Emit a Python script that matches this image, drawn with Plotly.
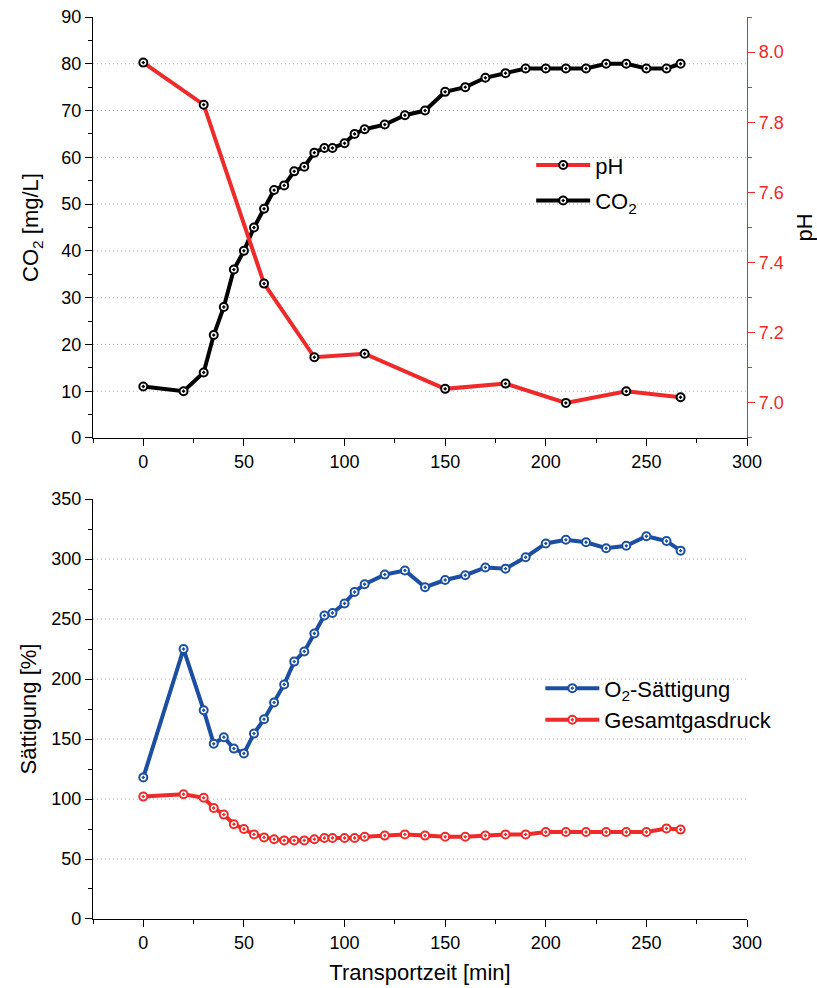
import plotly.graph_objects as go

# --- data -------------------------------------------------------------------
# time points (min)
t_ph = [0, 30, 60, 85, 110, 150, 180, 210, 240, 267]
ph = [7.97, 7.85, 7.34, 7.13, 7.14, 7.04, 7.055, 7.0, 7.033, 7.016]

t_meas = [0, 20, 30, 35, 40, 45, 50, 55, 60, 65, 70, 75, 80, 85, 90, 94, 100,
          105, 110, 120, 130, 140, 150, 160, 170, 180, 190, 200, 210, 220,
          230, 240, 250, 260, 267]
co2 = [11, 10, 14, 22, 28, 36, 40, 45, 49, 53, 54, 57, 58, 61, 62, 62, 63,
       65, 66, 67, 69, 70, 74, 75, 77, 78, 79, 79, 79, 79,
       80, 80, 79, 79, 80]
o2_sat = [118, 225, 174, 146, 151.5, 142, 138, 154.5, 166.5, 180.5, 195.5,
          214.5, 223, 238, 253, 255, 263, 272.5, 279, 287, 290.5, 276.5,
          282.5, 286.5, 293, 292, 301.5, 313, 316, 314, 309, 311, 319, 315,
          307]
gas_pressure = [102, 104, 101, 92.5, 87, 79, 75, 70.5, 68, 66.5, 65.5, 65.5,
                65.5, 66.5, 67.5, 67.5, 67.5, 67.5, 68.5, 69.5, 70.5, 69.5,
                68.5, 68.5, 69.5, 70.5, 70.5, 72.5, 72.5, 72.5, 72.5, 72.5,
                72.5, 75.5, 74.5]

# axis settings
x_range = [-25, 300]
co2_range = [0, 90]
ph_range = [6.9, 8.1]
sat_range = [0, 350]
co2_grid = [10, 20, 30, 40, 50, 60, 70, 80]
sat_grid = [50, 100, 150, 200, 250, 300]

RED = "#EE2A2A"
BLUE = "#1C4FA1"
BLACK = "#000000"
GRID = "#a8a8a8"
FONT = "Arial, Liberation Sans, sans-serif"

fig = go.Figure()


def marker(edge):
    return dict(symbol="circle-dot", size=8, color="white",
                line=dict(color=edge, width=2))


fig.add_trace(go.Scatter(x=t_ph, y=ph, name="pH", mode="lines+markers",
                         line=dict(color=RED, width=4), marker=marker(BLACK),
                         xaxis="x", yaxis="y2", legend="legend",
                         legendgroup="a"))
fig.add_trace(go.Scatter(x=t_meas, y=co2, name="CO<sub>2</sub>",
                         mode="lines+markers",
                         line=dict(color=BLACK, width=4), marker=marker(BLACK),
                         xaxis="x", yaxis="y", legend="legend",
                         legendgroup="b"))
fig.add_trace(go.Scatter(x=t_meas, y=o2_sat, name="O<sub>2</sub>-Sättigung",
                         mode="lines+markers",
                         line=dict(color=BLUE, width=4), marker=marker(BLUE),
                         xaxis="x2", yaxis="y3", legend="legend2",
                         legendgroup="c"))
fig.add_trace(go.Scatter(x=t_meas, y=gas_pressure, name="Gesamtgasdruck",
                         mode="lines+markers",
                         line=dict(color=RED, width=4), marker=marker(RED),
                         xaxis="x2", yaxis="y3", legend="legend2",
                         legendgroup="d"))

# dotted horizontal grid lines
for v in co2_grid:
    fig.add_shape(type="line", xref="x", yref="y", x0=x_range[0],
                  x1=x_range[1], y0=v, y1=v, layer="below",
                  line=dict(color=GRID, width=1, dash="1px,3px"))
for v in sat_grid:
    fig.add_shape(type="line", xref="x2", yref="y3", x0=x_range[0],
                  x1=x_range[1], y0=v, y1=v, layer="below",
                  line=dict(color=GRID, width=1, dash="1px,3px"))

axis_common = dict(showline=True, linecolor=BLACK, linewidth=1.3,
                   ticks="outside", ticklen=7, tickwidth=1.3,
                   tickcolor=BLACK, showgrid=False, zeroline=False,
                   automargin=False,
                   tickfont=dict(size=18, color=BLACK, family=FONT))

fig.update_layout(
    width=817, height=988,
    margin=dict(l=93, r=70, t=17, b=69),
    plot_bgcolor="white", paper_bgcolor="white",
    font=dict(family=FONT, color=BLACK),
    xaxis=dict(domain=[0, 1], anchor="y", range=x_range, tick0=0, dtick=50,
               minor=dict(dtick=25, ticks="outside", ticklen=4,
                          tickcolor=BLACK, tickwidth=1.3),
               **axis_common),
    yaxis=dict(domain=[0.5333, 1], anchor="x", range=co2_range, dtick=10,
               minor=dict(dtick=5, ticks="outside", ticklen=4,
                          tickcolor=BLACK, tickwidth=1.3),
               title=dict(text="CO<sub>2</sub> [mg/L]",
                          font=dict(size=22), standoff=16),
               **axis_common),
    yaxis2=dict(overlaying="y", side="right", anchor="x", range=ph_range,
                tick0=7.0, dtick=0.2, tickformat=".1f",
                showline=True, linecolor=RED, linewidth=1.3,
                ticks="outside", ticklen=7, tickwidth=1.3, tickcolor=RED,
                minor=dict(dtick=0.1, tick0=7.0, ticks="outside", ticklen=4,
                           tickcolor=RED, tickwidth=1.3),
                showgrid=False, zeroline=False, automargin=False,
                tickfont=dict(size=18, color=RED, family=FONT),
                title=dict(text="pH", font=dict(size=22, color=BLACK),
                           standoff=17)),
    xaxis2=dict(domain=[0, 1], anchor="y3", range=x_range, tick0=0, dtick=50,
                minor=dict(dtick=25, ticks="outside", ticklen=4,
                           tickcolor=BLACK, tickwidth=1.3),
                title=dict(text="Transportzeit [min]", font=dict(size=22),
                           standoff=12),
                **axis_common),
    yaxis3=dict(domain=[0, 0.4656], anchor="x2", range=sat_range, dtick=50,
                minor=dict(dtick=25, ticks="outside", ticklen=4,
                           tickcolor=BLACK, tickwidth=1.3),
                title=dict(text="Sättigung [%]", font=dict(size=22),
                           standoff=8),
                **axis_common),
    legend=dict(x=0.670, y=0.859, xanchor="left", yanchor="top",
                bgcolor="rgba(0,0,0,0)", font=dict(size=22),
                tracegroupgap=4, itemwidth=54),
    legend2=dict(x=0.684, y=0.279, xanchor="left", yanchor="top",
                 bgcolor="rgba(0,0,0,0)", font=dict(size=22),
                 tracegroupgap=0, itemwidth=54),
    showlegend=True,
)

fig.write_html("out.html")
